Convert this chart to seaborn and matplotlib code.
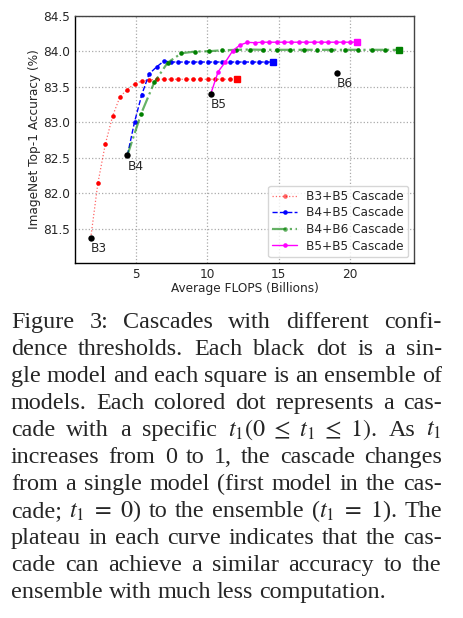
import matplotlib
matplotlib.use("Agg")
import matplotlib.pyplot as plt
from matplotlib.lines import Line2D
import seaborn as sns
import pandas as pd

# single models (black dots)
single_names = ["B3", "B4", "B5", "B6"]
single_flops = [1.84, 4.41, 10.25, 19.06]
single_acc = [81.37, 82.535, 83.40, 83.70]

# cascades, t1 from 0 to 1
b3b5_flops = [1.84, 2.34, 2.86, 3.38, 3.89, 4.40, 4.92, 5.43, 5.94, 6.45, 6.96,
              7.48, 7.99, 8.50, 9.02, 9.53, 10.04, 10.55, 11.07, 11.58, 12.07]
b3b5_acc = [81.37, 82.14, 82.69, 83.09, 83.36, 83.46, 83.545, 83.58, 83.596, 83.603, 83.605,
            83.605, 83.605, 83.605, 83.605, 83.605, 83.605, 83.605, 83.605, 83.605, 83.605]

b4b5_flops = [4.41, 4.91, 5.42, 5.93, 6.46, 6.97, 7.48, 7.99, 8.50, 9.02, 9.53,
              10.04, 10.55, 11.06, 11.57, 12.09, 12.60, 13.11, 13.62, 14.13, 14.64]
b4b5_acc = [82.535, 83.005, 83.39, 83.68, 83.78, 83.862, 83.848, 83.848, 83.848, 83.848, 83.848,
            83.848, 83.848, 83.848, 83.848, 83.848, 83.848, 83.848, 83.848, 83.848, 83.848]

b4b6_flops = [4.41, 5.37, 6.29, 7.23, 8.20, 9.16, 10.12, 11.07, 12.02, 12.97, 13.92,
              14.87, 15.82, 16.77, 17.72, 18.67, 19.63, 20.58, 21.53, 22.48, 23.43]
b4b6_acc = [82.535, 83.12, 83.56, 83.84, 83.972, 83.995, 84.0, 84.014, 84.019, 84.024, 84.02,
            84.02, 84.02, 84.02, 84.02, 84.02, 84.02, 84.02, 84.02, 84.02, 84.018]

b5b5_flops = [10.25, 10.77, 11.28, 11.80, 12.31, 12.82, 13.34, 13.85, 14.36, 14.88, 15.39,
              15.90, 16.42, 16.93, 17.45, 17.96, 18.48, 18.99, 19.50, 20.02, 20.53]
b5b5_acc = [83.40, 83.713, 83.85, 84.01, 84.088, 84.125, 84.12, 84.127, 84.127, 84.127, 84.127,
            84.127, 84.127, 84.127, 84.127, 84.127, 84.127, 84.127, 84.127, 84.127, 84.13]

# ensembles (squares)
ens_flops = [12.07, 14.64, 23.43, 20.53]
ens_acc = [83.605, 83.85, 84.018, 84.13]
ens_colors = ["red", "blue", "green", "magenta"]

caption_lines = [
    ["Figure", "3:", "Cascades", "with", "different", "confi-"],
    ["dence", "thresholds.", "Each", "black", "dot", "is", "a", "sin-"],
    ["gle", "model", "and", "each", "square", "is", "an", "ensemble", "of"],
    ["models.", "Each", "colored", "dot", "represents", "a", "cas-"],
    ["cade", "with", "a", "specific", r"$t_1(0\ \leq\ t_1\ \leq\ 1)$.", "As", r"$t_1$"],
    ["increases", "from", "0", "to", "1,", "the", "cascade", "changes"],
    ["from", "a", "single", "model", "(first", "model", "in", "the", "cas-"],
    ["cade;", r"$t_1\ =\ 0$)", "to", "the", "ensemble", r"($t_1\ =\ 1$).", "The"],
    ["plateau", "in", "each", "curve", "indicates", "that", "the", "cas-"],
    ["cade", "can", "achieve", "a", "similar", "accuracy", "to", "the"],
    ["ensemble", "with", "much", "less", "computation."],
]

sns.set_style("white")
plt.rcParams["font.family"] = ["DejaVu Sans"]
plt.rcParams["mathtext.fontset"] = "stix"
FS = 8.7

W, H = 463, 618
fig = plt.figure(figsize=(W / 100, H / 100), dpi=100)
ax = fig.add_axes([75.3 / W, (H - 263) / H, 339 / W, 247.3 / H])

series = [
    ("B3+B5 Cascade", b3b5_flops, b3b5_acc, "red", ":", 0.9, 0.6),
    ("B4+B5 Cascade", b4b5_flops, b4b5_acc, "blue", "--", 1.0, 1.0),
    ("B4+B6 Cascade", b4b6_flops, b4b6_acc, "green", "-.", 1.6, 0.6),
    ("B5+B5 Cascade", b5b5_flops, b5b5_acc, "magenta", "-", 1.0, 1.0),
]
for name, xs, ys, col, ls, lw, al in series:
    df = pd.DataFrame({"flops": xs, "acc": ys})
    sns.lineplot(data=df, x="flops", y="acc", ax=ax, color=col, linestyle=ls,
                 linewidth=lw, alpha=al, sort=False, legend=False)
    # cascade dots (the end points are covered by the black dot / square)
    ax.plot(xs[1:-1], ys[1:-1], linestyle="none", marker="o", markersize=3.3,
            markeredgewidth=0, color=col)

for fx, fy, c in zip(ens_flops, ens_acc, ens_colors):
    ax.plot(fx, fy, marker="s", markersize=5.0, color=c, linestyle="none")

sns.scatterplot(x=single_flops, y=single_acc, ax=ax, color="black", s=21,
                edgecolor="black", linewidth=0, zorder=5)
for n, fx, fy in zip(single_names, single_flops, single_acc):
    ax.text(fx, fy - 0.2, n, fontsize=FS)

ax.set_ylim(81.02, 84.5)
ax.set_yticks([81.5, 82.0, 82.5, 83.0, 83.5, 84.0, 84.5])
ax.set_xticks([5, 10, 15, 20])
ax.tick_params(labelsize=FS, length=0, pad=3.5)
ax.grid(True, linestyle=":", color="#aaaaaa", linewidth=0.9)
for sp in ax.spines.values():
    sp.set_color("black")
    sp.set_linewidth(1.0)
ax.spines["top"].set_color("#444444")
ax.spines["right"].set_color("#444444")
ax.set_xlabel("Average FLOPS (Billions)", fontsize=FS, labelpad=0.5)
ax.set_ylabel("ImageNet Top-1 Accuracy (%)", fontsize=FS, labelpad=2)

leg_handles = [Line2D([0], [0], color=c, linestyle=ls, linewidth=lw, alpha=al,
                      marker="o", markersize=3.3, markeredgewidth=0,
                      markerfacecolor=c)
               for _, _, _, c, ls, lw, al in series]
ax.legend(leg_handles, [s[0] for s in series], loc="lower right", fontsize=FS,
          frameon=True, fancybox=True, framealpha=0.8, edgecolor="#cccccc",
          borderpad=0.35, labelspacing=0.3, handlelength=2.0, handletextpad=0.8,
          borderaxespad=0.5, numpoints=1)

# caption, justified like the paper
renderer = fig.canvas.get_renderer()
left, right = 11.0, 441.7
base0, step = 327.7, 27.0
probe = fig.text(0, 0, " ".join(caption_lines[2]), fontsize=10, family="Liberation Serif")
cap_size = 10 * (right - left) / probe.get_window_extent(renderer).width
probe.remove()
cap_kw = dict(fontsize=cap_size, family="Liberation Serif", va="baseline", ha="left")
space = fig.text(0, 0, "a a", **cap_kw)
sw = space.get_window_extent(renderer).width
space.set_text("aa")
sw -= space.get_window_extent(renderer).width
space.remove()
for i, words in enumerate(caption_lines):
    y = 1 - (base0 + i * step) / H
    texts = [fig.text(0, y, w, **cap_kw) for w in words]
    widths = [t.get_window_extent(renderer).width for t in texts]
    if i < len(caption_lines) - 1:
        gap = (right - left - sum(widths)) / (len(words) - 1)
    else:
        gap = sw
    x = left
    for t, w in zip(texts, widths):
        t.set_x(x / W)
        x += w + gap

fig.savefig("out.png", dpi=100)
